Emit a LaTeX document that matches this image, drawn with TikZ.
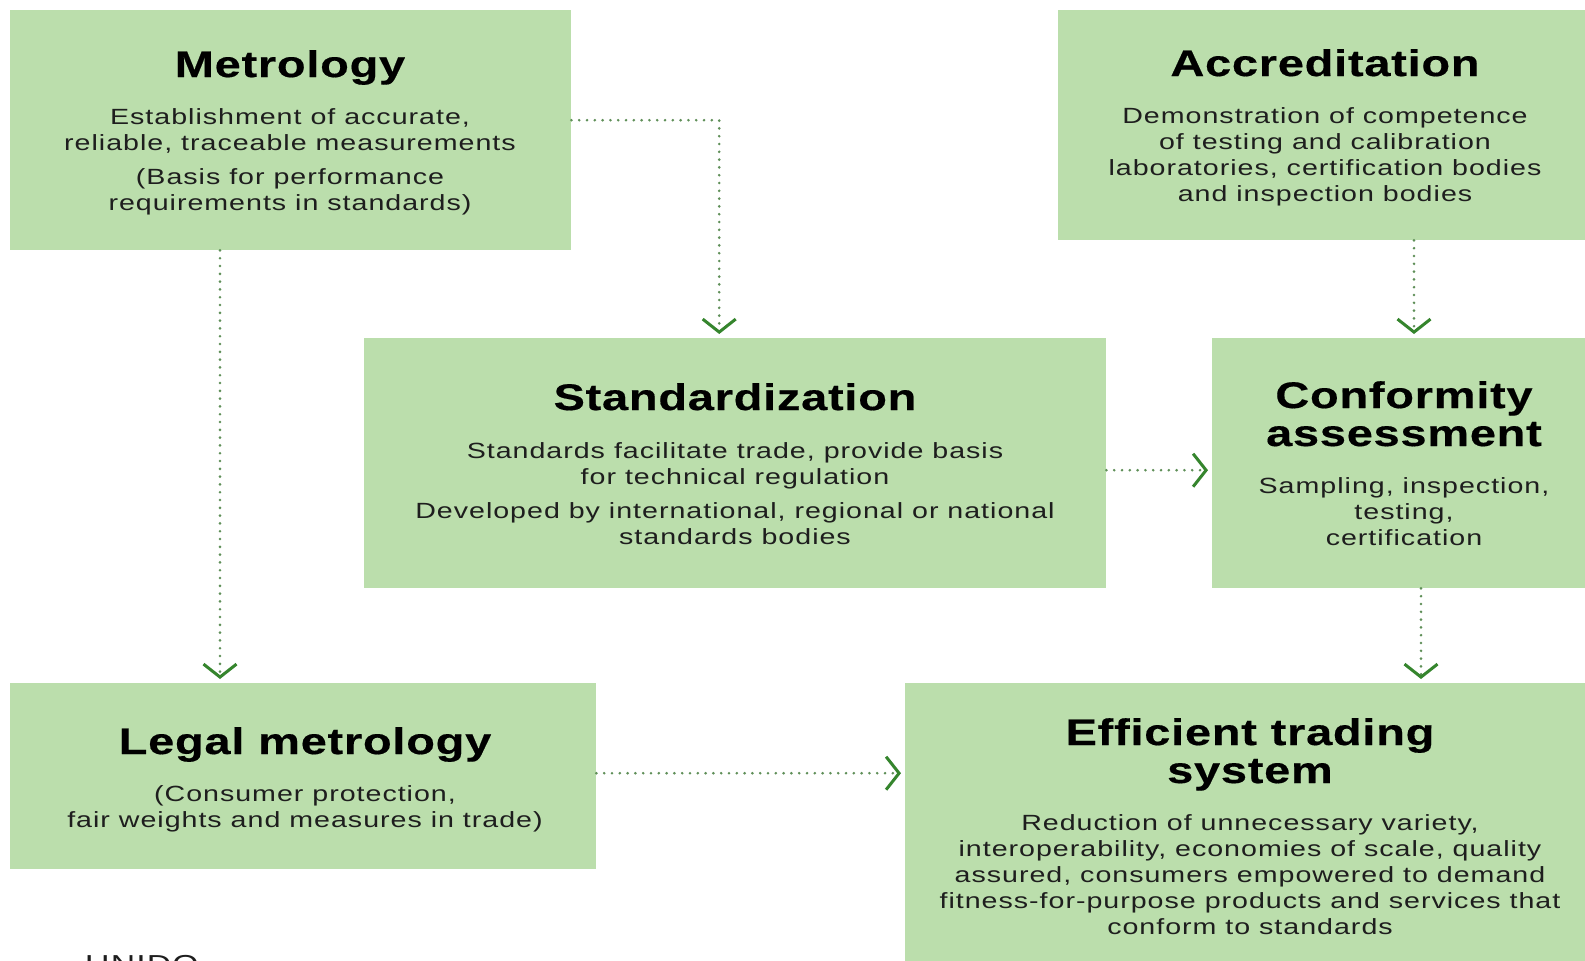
\documentclass[tikz,border=0pt]{standalone}
\usepackage{fontspec}
\setmainfont{Liberation Sans}[FakeStretch=1.3,LetterSpace=4.5]
\newfontfamily\ttlfont{Liberation Sans}[FakeStretch=1.27,LetterSpace=2,BoldFeatures={FakeBold=0.4}]
\usetikzlibrary{arrows.meta,calc}
\definecolor{boxfill}{HTML}{BBDEAC}
\definecolor{dotcol}{HTML}{5F8F58}
\definecolor{tipcol}{HTML}{35852D}
\definecolor{bodycol}{HTML}{1E1E1E}
\tikzset{
  box/.style={fill=boxfill, draw=none, inner sep=0pt, anchor=north west},
  ttl/.style={font=\fontsize{37}{40}\selectfont\ttlfont\bfseries, text=black, inner sep=0pt, anchor=base},
  bdy/.style={font=\fontsize{22}{26}\selectfont, text=bodycol, inner sep=0pt, anchor=base},
  flow/.style={draw=dotcol, line width=2.9pt, line cap=round, dash pattern=on 0pt off 7.8pt,
    -{Straight Barb[length=13pt,width=33pt,line width=3pt,color=tipcol]}, shorten >=4pt}
}
\begin{document}
\begin{tikzpicture}[x=1pt,y=-1pt]
\useasboundingbox[fill=white] (0,0) rectangle (1585,961);
% boxes
\node[box, minimum width=561pt, minimum height=240pt] (m) at (10,10) {};
\node[box, minimum width=527pt, minimum height=230pt] (a) at (1058,10) {};
\node[box, minimum width=742pt, minimum height=250pt] (s) at (364,338) {};
\node[box, minimum width=373pt, minimum height=250pt] (c) at (1212,338) {};
\node[box, minimum width=586pt, minimum height=186pt] (l) at (10,683) {};
\node[box, minimum width=680pt, minimum height=280pt] (e) at (905,683) {};
% Metrology
\node[ttl] (mt) at (290,77) {Metrology};
\node[bdy] (mb1) at (290,124) {Establishment of accurate,};
\node[bdy] (mb2) at (290,150) {reliable, traceable measurements};
\node[bdy] (mb3) at (290,184) {(Basis for performance};
\node[bdy] (mb4) at (290,210) {requirements in standards)};
% Accreditation
\node[ttl] (at) at (1325,76) {Accreditation};
\node[bdy] (ab1) at (1325,123) {Demonstration of competence};
\node[bdy] (ab2) at (1325,149) {of testing and calibration};
\node[bdy] (ab3) at (1325,175) {laboratories, certification bodies};
\node[bdy] (ab4) at (1325,201) {and inspection bodies};
% Standardization
\node[ttl] (st) at (735,410) {Standardization};
\node[bdy] (sb1) at (735,458) {Standards facilitate trade, provide basis};
\node[bdy] (sb2) at (735,484) {for technical regulation};
\node[bdy] (sb3) at (735,518) {Developed by international, regional or national};
\node[bdy] (sb4) at (735,544) {standards bodies};
% Conformity assessment
\node[ttl] (ct1) at (1404,408) {Conformity};
\node[ttl] (ct2) at (1404,446) {assessment};
\node[bdy] (cb1) at (1404,493) {Sampling, inspection,};
\node[bdy] (cb2) at (1404,519) {testing,};
\node[bdy] (cb3) at (1404,545) {certification};
% Legal metrology
\node[ttl] (lt) at (305,754) {Legal metrology};
\node[bdy] (lb1) at (305,801) {(Consumer protection,};
\node[bdy] (lb2) at (305,827) {fair weights and measures in trade)};
% Efficient trading system
\node[ttl] (et1) at (1250,745) {Efficient trading};
\node[ttl] (et2) at (1250,783) {system};
\node[bdy] (eb1) at (1250,830) {Reduction of unnecessary variety,};
\node[bdy] (eb2) at (1250,856) {interoperability, economies of scale, quality};
\node[bdy] (eb3) at (1250,882) {assured, consumers empowered to demand};
\node[bdy] (eb4) at (1250,908) {fitness-for-purpose products and services that};
\node[bdy] (eb5) at (1250,934) {conform to standards};
% source
\node[font=\fontsize{26}{30}\selectfont, text=bodycol, inner sep=0pt, anchor=north west] (src) at (85,955) {UNIDO};
% connector anchors
\coordinate (m1) at ([yshift=10pt]m.east);
\coordinate (s1) at ([xshift=-16pt]s.north);
\coordinate (m2) at ([xshift=210pt]m.south west);
\coordinate (a1) at ([xshift=356pt]a.south west);
\coordinate (s2) at ([yshift=-7pt]s.east);
\coordinate (c1) at ([xshift=209pt]c.south west);
\coordinate (l1) at ([yshift=3pt]l.east);
% connectors
\draw[flow] (m1) -| (s1);
\draw[flow] (m2) -- (m2 |- l.north);
\draw[flow] (a1) -- (a1 |- c.north);
\draw[flow] (s2) -- (s2 -| c.west);
\draw[flow] (c1) -- (c1 |- e.north);
\draw[flow] (l1) -- (l1 -| e.west);
\end{tikzpicture}
\end{document}
